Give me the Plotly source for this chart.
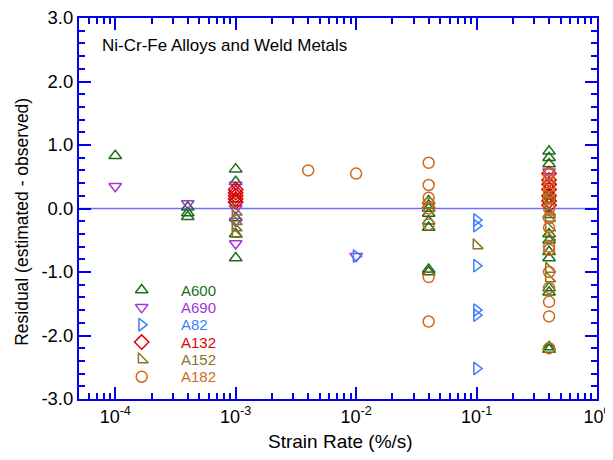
import plotly.graph_objects as go

# ---------------- data ----------------
a600_rate = [1e-4, 4e-4, 4e-4, 4e-4,
             1e-3, 1e-3, 1e-3, 1e-3, 1e-3, 1e-3,
             0.04, 0.04, 0.04, 0.04, 0.04, 0.04, 0.04, 0.04,
             0.4, 0.4, 0.4, 0.4, 0.4, 0.4, 0.4, 0.4, 0.4, 0.4, 0.4, 0.4, 0.4]
a600_res = [0.83, 0.02, -0.07, -0.13,
            0.62, 0.42, 0.15, -0.15, -0.4, -0.78,
            0.12, 0.05, 0.0, -0.08, -0.2, -0.3, -0.96, -1.0,
            0.9, 0.8, 0.7, 0.2, -0.1, -0.4, -0.5, -0.68, -0.78, -1.25, -1.32, -2.18, -2.22]

a690_rate = [1e-4, 4e-4, 1e-3, 1e-3, 1e-3, 1e-3, 1e-2, 0.4, 0.4, 0.4]
a690_res = [0.35, 0.08, 0.37, 0.0, -0.2, -0.55, -0.75, 0.58, 0.5, 0.35]

a82_rate = [1e-2, 0.1, 0.1, 0.1, 0.1, 0.1, 0.1]
a82_res = [-0.75, -0.18, -0.27, -0.9, -1.6, -1.68, -2.52]

a132_rate = [1e-3, 1e-3, 1e-3, 1e-3, 1e-3, 0.4, 0.4, 0.4, 0.4, 0.4, 0.4, 0.4]
a132_res = [0.3, 0.25, 0.2, 0.15, 0.1, 0.55, 0.45, 0.38, 0.3, 0.2, 0.12, 0.05]

a152_rate = [1e-3, 1e-3, 1e-3, 1e-3, 0.1, 0.4, 0.4, 0.4, 0.4, 0.4, 0.4, 0.4]
a152_res = [-0.05, -0.2, -0.3, -0.4, -0.58, 0.15, -0.05, -0.15, -0.3, -0.45, -0.95, -1.1]

a182_rate = [4e-3, 1e-2,
             0.04, 0.04, 0.04, 0.04, 0.04, 0.04, 0.04, 0.04,
             0.4, 0.4, 0.4, 0.4, 0.4, 0.4, 0.4, 0.4, 0.4, 0.4, 0.4, 0.4, 0.4, 0.4, 0.4]
a182_res = [0.6, 0.55,
            0.72, 0.37, 0.17, 0.08, 0.0, -0.25, -1.08, -1.78,
            0.55, 0.45, 0.35, 0.25, 0.15, 0.0, -0.15, -0.3, -0.6, -0.65, -1.0, -1.25, -1.47, -1.7, -2.2]

series_names = ["A600", "A690", "A82", "A132", "A152", "A182"]
series_colors = ["#1b6e1b", "#a035d8", "#3a80ff", "#e00000", "#857528", "#d0691c"]
series_symbols = ["triangle-up-open", "triangle-down-open", "triangle-right-open",
                  "diamond-open", "triangle-sw-open", "circle-open"]
series_data = [(a600_rate, a600_res), (a690_rate, a690_res), (a82_rate, a82_res),
               (a132_rate, a132_res), (a152_rate, a152_res), (a182_rate, a182_res)]

x_tickvals = [1e-4, 1e-3, 1e-2, 1e-1, 1]
x_ticktext = ["10<sup>-4</sup>", "10<sup>-3</sup>", "10<sup>-2</sup>", "10<sup>-1</sup>", "10<sup>0</sup>"]
y_tickvals = [-3, -2, -1, 0, 1, 2, 3]
y_ticktext = ["-3.0", "-2.0", "-1.0", "0.0", "1.0", "2.0", "3.0"]

FONT = "Liberation Sans, Arial, Helvetica, sans-serif"
AXIS_BLUE = "#0000ee"
MSIZE = 11

# custom legend placement (paper fractions of the plot area)
LEG_X_MARK = 0.121
LEG_X_TEXT = 0.193
LEG_Y0 = 0.286
LEG_DY = 0.0455

fig = go.Figure()
for name, col, sym, (xs, ys) in zip(series_names, series_colors, series_symbols, series_data):
    fig.add_trace(go.Scatter(
        x=xs, y=ys, mode="markers", name=name, showlegend=False,
        marker=dict(symbol=sym, size=MSIZE, color=col, line=dict(width=1.5, color=col)),
    ))

annotations = []
for i, (name, col, sym) in enumerate(zip(series_names, series_colors, series_symbols)):
    ly = LEG_Y0 - i * LEG_DY
    fig.add_trace(go.Scatter(
        x=[LEG_X_MARK], y=[ly], xaxis="x2", yaxis="y2", mode="markers",
        showlegend=False, hoverinfo="skip",
        marker=dict(symbol=sym, size=MSIZE, color=col, line=dict(width=1.5, color=col)),
    ))
    annotations.append(dict(
        text=name, xref="paper", yref="paper", x=LEG_X_TEXT, y=ly,
        xanchor="left", yanchor="middle", showarrow=False,
        font=dict(size=15, family=FONT, color=col),
    ))

annotations += [
    dict(text="Ni-Cr-Fe Alloys and Weld Metals", xref="paper", yref="paper",
         x=0.0405, y=0.928, xanchor="left", yanchor="middle", showarrow=False,
         font=dict(size=17, family=FONT, color="black")),
    dict(text="Strain Rate (%/s)", xref="paper", yref="paper",
         x=0.504, y=-0.112, xanchor="center", yanchor="middle", showarrow=False,
         font=dict(size=19, family=FONT, color="black")),
    dict(text="Residual (estimated - observed)", xref="paper", yref="paper",
         x=-0.11, y=0.465, xanchor="center", yanchor="middle", showarrow=False,
         textangle=-90, font=dict(size=17.5, family=FONT, color="black")),
]

minor_x = [m * 10 ** e for e in range(-5, 0) for m in range(2, 10)]
minor_x = [v for v in minor_x if 5e-5 <= v <= 1]

# the page body has an 8px default margin; the figure is sized to compensate
fig.update_layout(
    width=605, height=452,
    margin=dict(l=71, r=16, t=10, b=61, pad=0),
    paper_bgcolor="white", plot_bgcolor="white",
    font=dict(family=FONT, size=15, color="black"),
    showlegend=False,
    xaxis=dict(
        type="log", range=[-4.30103, 0], automargin=False,
        tickmode="array", tickvals=x_tickvals, ticktext=x_ticktext,
        ticklabeloverflow="allow",
        ticks="inside", ticklen=12, tickwidth=1.5, tickcolor=AXIS_BLUE,
        showline=True, linecolor=AXIS_BLUE, linewidth=2, mirror="allticks",
        showgrid=False, zeroline=False,
        tickfont=dict(size=18, family=FONT),
        minor=dict(tickmode="array", tickvals=minor_x, ticks="inside", ticklen=6,
                   tickwidth=1.5, tickcolor=AXIS_BLUE, showgrid=False),
    ),
    yaxis=dict(
        range=[-3, 3], tickmode="array", tickvals=y_tickvals, ticktext=y_ticktext,
        automargin=False, ticklabeloverflow="allow",
        ticks="inside", ticklen=12, tickwidth=1.5, tickcolor=AXIS_BLUE,
        showline=True, linecolor=AXIS_BLUE, linewidth=2, mirror="allticks",
        showgrid=False, zeroline=False,
        tickfont=dict(size=18.5, family=FONT),
        minor=dict(dtick=0.2, tick0=0, ticks="inside", ticklen=6, tickwidth=1.5,
                   tickcolor=AXIS_BLUE, showgrid=False),
    ),
    xaxis2=dict(overlaying="x", range=[0, 1], visible=False, fixedrange=True),
    yaxis2=dict(overlaying="y", range=[0, 1], visible=False, fixedrange=True),
    shapes=[dict(type="line", xref="paper", yref="y", x0=0, x1=1, y0=0, y1=0,
                 line=dict(color="#7070f8", width=1.3), layer="below")],
    annotations=annotations,
)

fig.write_html("out.html")
